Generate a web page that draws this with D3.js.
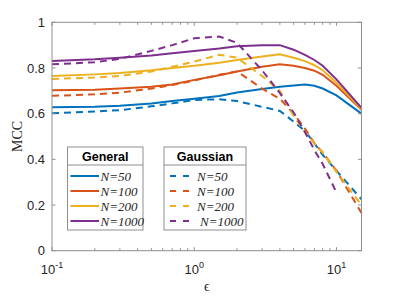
<!DOCTYPE html>
<html>
<head>
<meta charset="utf-8">
<script src="https://cdn.jsdelivr.net/npm/d3@7"></script>
<style>
  body { margin: 0; background: #fff; }
  text { font-family: "Liberation Sans", Arial, sans-serif; fill: #262626; }
  .serif { font-family: "Liberation Serif", "Times New Roman", serif; }
</style>
</head>
<body>
<div id="chart"></div>
<script>
// epsilon values (x axis, log scale)
var eps = [0.1, 0.2, 0.3, 0.5, 0.7, 1, 1.5, 2, 3, 4, 5, 6, 7, 8, 10, 15];

// General (solid)
var gen50   = [0.628, 0.630, 0.635, 0.645, 0.655, 0.665, 0.677, 0.693, 0.708, 0.718, 0.723, 0.728, 0.722, 0.710, 0.680, 0.600];
var gen100  = [0.703, 0.705, 0.710, 0.718, 0.728, 0.748, 0.768, 0.785, 0.805, 0.816, 0.810, 0.800, 0.788, 0.770, 0.722, 0.617];
var gen200  = [0.765, 0.772, 0.778, 0.790, 0.800, 0.810, 0.823, 0.835, 0.850, 0.860, 0.845, 0.830, 0.812, 0.790, 0.735, 0.620];
var gen1000 = [0.831, 0.838, 0.845, 0.855, 0.865, 0.874, 0.885, 0.895, 0.900, 0.900, 0.880, 0.857, 0.835, 0.810, 0.750, 0.625];

// Gaussian (dashed)
var gau50   = [0.602, 0.610, 0.615, 0.632, 0.645, 0.660, 0.663, 0.655, 0.630, 0.612, 0.565, 0.525, 0.470, 0.420, 0.350, 0.225];
var gau100  = [0.678, 0.685, 0.692, 0.710, 0.725, 0.745, 0.770, 0.785, 0.710, 0.665, 0.600, 0.535, 0.470, 0.430, 0.350, 0.165];
var gau200  = [0.752, 0.758, 0.765, 0.785, 0.805, 0.828, 0.858, 0.845, 0.765, 0.700, 0.590, 0.520, 0.470, 0.430, 0.345, 0.200];
var gau1000 = [0.816, 0.825, 0.840, 0.875, 0.900, 0.930, 0.938, 0.910, 0.790, 0.690, 0.605, 0.520, 0.440, 0.380, 0.255, null];

var labels = ["N=50", "N=100", "N=200", "N=1000"];
var colors = ["#0072BD", "#D95319", "#EDB120", "#7E2F8E"];
var general = [gen50, gen100, gen200, gen1000];
var gaussian = [gau50, gau100, gau200, gau1000];

var W = 399, H = 299;
var svg = d3.select("#chart").append("svg")
    .attr("width", W).attr("height", H);

var x = d3.scaleLog().domain([0.1, 15]).range([52, 361.5]);
var y = d3.scaleLinear().domain([0, 1]).range([250.7, 22.3]);

var axisColor = "#8f8f8f";

// minor/major x ticks
var xTicks = [];
[0.1, 1, 10].forEach(function(d){
  for (var k = 1; k <= 9; k++) { var v = d*k; if (v <= 15) xTicks.push(v); }
});

var line = d3.line()
    .defined(function(d){ return d[1] != null; })
    .x(function(d){ return x(d[0]); })
    .y(function(d){ return y(d[1]); });

var plot = svg.append("g");

general.forEach(function(s, i){
  plot.append("path")
    .datum(eps.map(function(e, j){ return [e, s[j]]; }))
    .attr("d", line)
    .attr("fill", "none")
    .attr("stroke", colors[i])
    .attr("stroke-width", 2);
});
gaussian.forEach(function(s, i){
  plot.append("path")
    .datum(eps.map(function(e, j){ return [e, s[j]]; }))
    .attr("d", line)
    .attr("fill", "none")
    .attr("stroke", colors[i])
    .attr("stroke-width", 2)
    .attr("stroke-dasharray", "7,5");
});

// box + ticks
var box = svg.append("g");
box.append("rect")
  .attr("x", x(0.1)).attr("y", y(1))
  .attr("width", x(15) - x(0.1)).attr("height", y(0) - y(1))
  .attr("fill", "none").attr("stroke", axisColor).attr("stroke-width", 1);

xTicks.forEach(function(v){
  var major = [0.1, 1, 10].indexOf(v) >= 0;
  var len = major ? 3.5 : 2.5;
  box.append("line").attr("x1", x(v)).attr("x2", x(v))
    .attr("y1", y(0)).attr("y2", y(0) - len).attr("stroke", axisColor);
  box.append("line").attr("x1", x(v)).attr("x2", x(v))
    .attr("y1", y(1)).attr("y2", y(1) + len).attr("stroke", axisColor);
});

var yTicks = [0, 0.2, 0.4, 0.6, 0.8, 1];
yTicks.forEach(function(v){
  box.append("line").attr("x1", x(0.1)).attr("x2", x(0.1) + 3.5)
    .attr("y1", y(v)).attr("y2", y(v)).attr("stroke", axisColor);
  box.append("line").attr("x1", x(15)).attr("x2", x(15) - 3.5)
    .attr("y1", y(v)).attr("y2", y(v)).attr("stroke", axisColor);
  svg.append("text")
    .attr("x", 45).attr("y", y(v)).attr("dy", "0.36em")
    .attr("text-anchor", "end")
    .style("font-size", "13px")
    .text(v === 0 || v === 1 ? String(v) : v.toFixed(1));
});

[[0.1, "-1"], [1, "0"], [10, "1"]].forEach(function(t){
  var tx = svg.append("text")
    .attr("x", x(t[0])).attr("y", 274)
    .attr("text-anchor", "middle")
    .style("font-size", "13px");
  tx.append("tspan").text("10");
  tx.append("tspan").attr("dy", -6).style("font-size", "9px").text(t[1]);
});

svg.append("text")
  .attr("class", "serif")
  .attr("x", (x(0.1) + x(15)) / 2).attr("y", 291)
  .attr("text-anchor", "middle")
  .style("font-size", "14px")
  .text("\u03f5");

svg.append("text")
  .attr("class", "serif")
  .attr("transform", "translate(22," + ((y(0) + y(1)) / 2) + ") rotate(-90)")
  .attr("text-anchor", "middle")
  .style("font-size", "14px")
  .text("MCC");

// legends
function legend(x0, x1, title, dashed, lx0, lx1, tx){
  var g = svg.append("g");
  g.append("rect").attr("x", x0).attr("y", 147)
    .attr("width", x1 - x0).attr("height", 83)
    .attr("fill", "#fff").attr("stroke", axisColor);
  g.append("line").attr("x1", x0).attr("x2", x1)
    .attr("y1", 165).attr("y2", 165).attr("stroke", axisColor);
  g.append("text").attr("x", (x0 + x1) / 2).attr("y", 161)
    .attr("text-anchor", "middle")
    .style("font-size", "12.5px").style("font-weight", "bold")
    .style("fill", "#000")
    .text(title);
  labels.forEach(function(l, i){
    var ly = 176 + i * 15;
    g.append("line").attr("x1", lx0).attr("x2", lx1)
      .attr("y1", ly).attr("y2", ly)
      .attr("stroke", colors[i]).attr("stroke-width", 2)
      .attr("stroke-dasharray", dashed ? "6,7" : null);
    var t = g.append("text").attr("class", "serif")
      .attr("x", tx + (dashed && i === 3 ? 3 : 0)).attr("y", ly).attr("dy", "0.35em")
      .style("font-size", "13px").style("font-style", "italic");
    t.text(l);
  });
}
legend(67.5, 143, "General", false, 70.5, 99, 100.5);
legend(164, 246, "Gaussian", true, 170, 190, 197);
</script>
</body>
</html>
